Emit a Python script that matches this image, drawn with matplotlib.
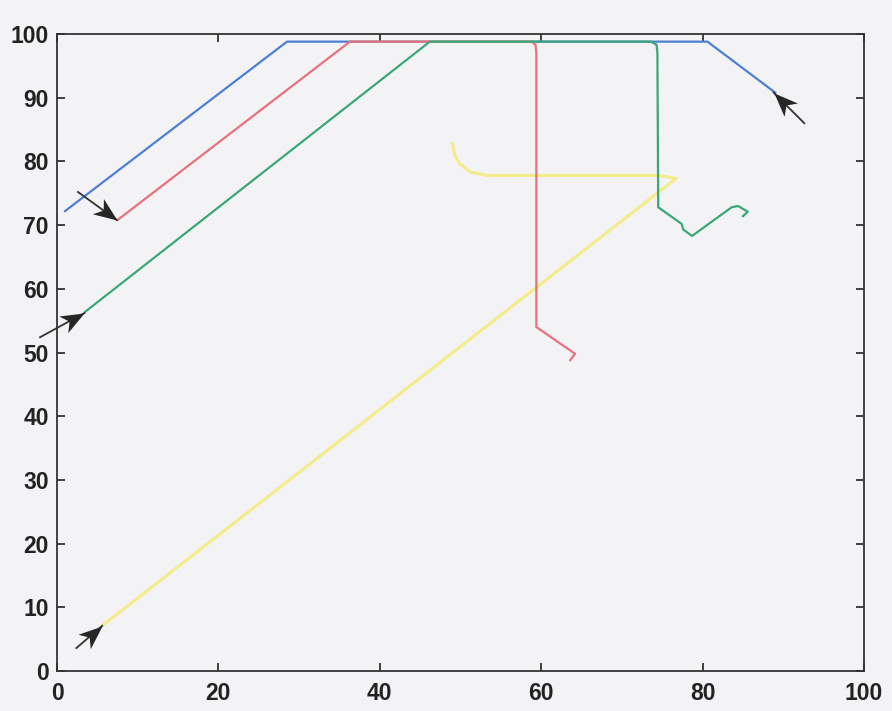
import numpy as np
import matplotlib
matplotlib.use("Agg")
import matplotlib.pyplot as plt
from matplotlib.markers import MarkerStyle
from matplotlib.path import Path
from matplotlib.transforms import Affine2D

# Trajectories (x, y)
blue_x = [1.0, 28.5, 80.6, 89.0]
blue_y = [72.2, 98.8, 98.8, 90.8]

red_x = [7.5, 36.3, 58.8, 59.3, 59.4, 59.4, 64.2, 63.6]
red_y = [70.8, 98.8, 98.8, 98.3, 97.0, 54.0, 49.8, 48.8]

green_x = [3.5, 46.2, 73.6, 74.3, 74.4, 74.5, 77.4, 77.6, 78.7, 83.6, 84.4, 85.6, 85.0]
green_y = [56.4, 98.8, 98.8, 98.3, 97.0, 72.8, 70.2, 69.3, 68.3, 72.8, 73.0, 72.1, 71.4]

yellow_x = [5.7, 76.7, 74.5, 53.2, 51.3, 49.9, 49.3, 49.0]
yellow_y = [7.2, 77.3, 77.8, 77.8, 78.3, 79.6, 81.0, 82.8]

# Arrow annotations: (tail_x, tail_y, tip_x, tip_y)
arrow_tail_x = [2.6, -2.1, 2.4, 92.6]
arrow_tail_y = [75.2, 52.4, 3.6, 86.0]
arrow_tip_x = [7.4, 3.4, 5.6, 88.8]
arrow_tip_y = [70.8, 56.2, 7.1, 90.8]

x_ticks = [0, 20, 40, 60, 80, 100]
y_ticks = [0, 10, 20, 30, 40, 50, 60, 70, 80, 90, 100]

W, H = 892, 711
fig = plt.figure(figsize=(W / 100, H / 100), dpi=100)
bg = "#f3f3f6"
fig.patch.set_facecolor(bg)
ax = fig.add_axes([57 / W, (711 - 671) / H, (864 - 57) / W, (671 - 34) / H])
ax.set_facecolor(bg)
ax.set_xlim(0, 100)
ax.set_ylim(0, 100)

lw = 1.6
ax.plot(blue_x, blue_y, color="#4f7fd3", lw=lw)
ax.plot(yellow_x, yellow_y, color="#f3ec88", lw=lw + 0.6)
ax.plot(red_x, red_y, color="#e8717c", lw=lw)
ax.plot(green_x, green_y, color="#3ca776", lw=lw)

# notched arrow-head marker pointing along +x with tip at origin
head = Path([(0, 0), (-1.0, 0.40), (-0.72, 0.0), (-1.0, -0.40), (0, 0)],
            [Path.MOVETO, Path.LINETO, Path.LINETO, Path.LINETO, Path.CLOSEPOLY])
for tx, ty, hx, hy in zip(arrow_tail_x, arrow_tail_y, arrow_tip_x, arrow_tip_y):
    ax.plot([tx, hx], [ty, hy], color="#333333", lw=1.3, clip_on=False)
    p0 = ax.transData.transform((tx, ty))
    p1 = ax.transData.transform((hx, hy))
    ang = np.degrees(np.arctan2(p1[1] - p0[1], p1[0] - p0[0]))
    m = MarkerStyle(head, transform=Affine2D().rotate_deg(ang))
    ax.plot([hx], [hy], marker=m, markersize=34, color="#262626",
            markeredgewidth=0, linestyle="none", clip_on=False)

ax.set_xticks(x_ticks)
ax.set_yticks(y_ticks)
ax.tick_params(direction="in", length=6, width=1.2, top=True, right=True,
               labelsize=16.5, colors="#222222")
ax.tick_params(axis="x", pad=8)
ax.tick_params(axis="y", pad=6)
for lab in ax.get_xticklabels() + ax.get_yticklabels():
    lab.set_fontfamily("Liberation Sans")
    lab.set_fontweight("bold")
for s in ax.spines.values():
    s.set_linewidth(1.3)
    s.set_color("#333333")

fig.savefig("out.png", dpi=100, facecolor=bg)
